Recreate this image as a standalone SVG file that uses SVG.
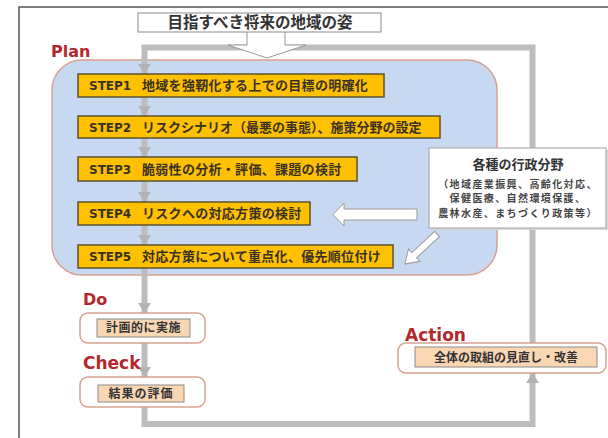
<svg xmlns="http://www.w3.org/2000/svg" width="608" height="438" viewBox="0 0 608 438">
<style>
.lbl{font-family:"DejaVu Sans",sans-serif;font-weight:bold;fill:#b3282e}
.stepbox{fill:#ffc000;stroke:#5e5230;stroke-width:1.5}
.sn{font-family:"DejaVu Sans","Noto Sans CJK JP",sans-serif;font-weight:bold;font-size:12px;fill:#3a3220}
.sj{font-family:"Noto Sans CJK JP",sans-serif;font-weight:bold;font-size:13px;fill:#3a3220;letter-spacing:0.3px}
.outer{fill:#ffffff;stroke:#d9a091;stroke-width:1.5}
.inner{fill:#fbd6b3;stroke:#8a8a8a;stroke-width:1}
.it{font-family:"Noto Sans CJK JP",sans-serif;font-weight:bold;font-size:12px;fill:#333333;text-anchor:middle}
.adm{font-family:"Noto Sans CJK JP",sans-serif;font-weight:bold;font-size:10px;letter-spacing:1.4px;fill:#444444;text-anchor:middle}
.loop{fill:none;stroke:#bdbdbd;stroke-width:6}
.ah{fill:#b3b3b3}
.barrow{fill:#ffffff;stroke:#9a9a9a;stroke-width:1}
</style>
<rect x="0" y="0" width="608" height="438" fill="#ffffff"/>
<path d="M19,438 V7 H608" fill="none" stroke="#555555" stroke-width="1.5"/>

<g id="plan-area">
<rect x="52" y="60" width="445" height="215" rx="30" fill="#c6d9f0" stroke="#d9a091" stroke-width="1.5"/>
<text class="lbl" x="51" y="57" font-size="16">Plan</text>
</g>

<g id="connectors">
<path class="loop" d="M144.5,74 V47.5 H532.5 V424 H144.5 V74"/>
<polygon class="ah" points="138,64 151,64 144.5,74"/>
<polygon class="ah" points="138,106 151,106 144.5,116"/>
<polygon class="ah" points="138,147 151,147 144.5,157"/>
<polygon class="ah" points="138,192 151,192 144.5,202"/>
<polygon class="ah" points="138,235 151,235 144.5,245"/>
<polygon class="ah" points="138,303 151,303 144.5,313"/>
<polygon class="ah" points="138,367 151,367 144.5,377"/>
<polygon class="ah" points="526,383 539,383 532.5,373"/>
<path class="barrow" d="M247,32 V45 H228 L267,58 L306,45 H285 V32"/>
<path class="barrow" d="M417,209 H344 V203 L333,214.5 L344,226 V220 H417 Z"/>
<path class="barrow" transform="translate(437,234) rotate(137)" d="M0,-3.5 H31 V-8.5 L44,0 L31,8.5 V3.5 H0 Z"/>
</g>

<g id="goal">
<rect x="138" y="13" width="243" height="19" fill="#ffffff" stroke="#8a8a8a" stroke-width="1"/>
<text x="260" y="28" text-anchor="middle" font-family="'Noto Sans CJK JP',sans-serif" font-weight="bold" font-size="15.5" fill="#333333">目指すべき将来の地域の姿</text>
</g>

<g id="step1">
<rect class="stepbox" x="78" y="74" width="306" height="23"/>
<text class="sn" x="89" y="90">STEP1</text>
<text class="sj" x="142" y="90">地域を強靭化する上での目標の明確化</text>
</g>
<g id="step2">
<rect class="stepbox" x="78" y="116" width="362" height="22"/>
<text class="sn" x="89" y="132">STEP2</text>
<text class="sj" x="142" y="132" style="letter-spacing:0">リスクシナリオ（最悪の事態）、施策分野の設定</text>
</g>
<g id="step3">
<rect class="stepbox" x="78" y="157" width="279" height="24"/>
<text class="sn" x="89" y="174">STEP3</text>
<text class="sj" x="142" y="174">脆弱性の分析・評価、課題の検討</text>
</g>
<g id="step4">
<rect class="stepbox" x="78" y="202" width="232" height="23"/>
<text class="sn" x="89" y="218">STEP4</text>
<text class="sj" x="142" y="218">リスクへの対応方策の検討</text>
</g>
<g id="step5">
<rect class="stepbox" x="78" y="245" width="315" height="23"/>
<text class="sn" x="89" y="261">STEP5</text>
<text class="sj" x="142" y="261">対応方策について重点化、優先順位付け</text>
</g>

<g id="admin">
<rect x="431" y="150" width="177" height="80" fill="#d8d8d8"/>
<rect x="429" y="148" width="177" height="80" fill="#ffffff" stroke="#a0a0a0" stroke-width="1"/>
<text x="518" y="169" text-anchor="middle" font-family="'Noto Sans CJK JP',sans-serif" font-weight="bold" font-size="13" fill="#333333">各種の行政分野</text>
<text class="adm" x="518" y="187.5">（地域産業振興、高齢化対応、</text>
<text class="adm" x="518" y="202">保健医療、自然環境保護、</text>
<text class="adm" x="518" y="216.5">農林水産、まちづくり政策等）</text>
</g>

<g id="do">
<text class="lbl" x="83" y="305" font-size="16">Do</text>
<rect class="outer" x="80" y="313" width="125" height="30" rx="8"/>
<rect class="inner" x="97" y="319" width="93" height="18"/>
<text class="it" x="143.5" y="332" letter-spacing="0.5">計画的に実施</text>
</g>

<g id="check">
<text class="lbl" x="83" y="369" font-size="17">Check</text>
<rect class="outer" x="80" y="377" width="125" height="30" rx="8"/>
<rect class="inner" x="98" y="385" width="86" height="17"/>
<text class="it" x="141" y="398" letter-spacing="1">結果の評価</text>
</g>

<g id="action">
<text class="lbl" x="405" y="341" font-size="17">Action</text>
<rect class="outer" x="398" y="343" width="208" height="30" rx="8"/>
<rect class="inner" x="415" y="347" width="182" height="20"/>
<text class="it" x="506" y="362">全体の取組の見直し・改善</text>
</g>
</svg>
